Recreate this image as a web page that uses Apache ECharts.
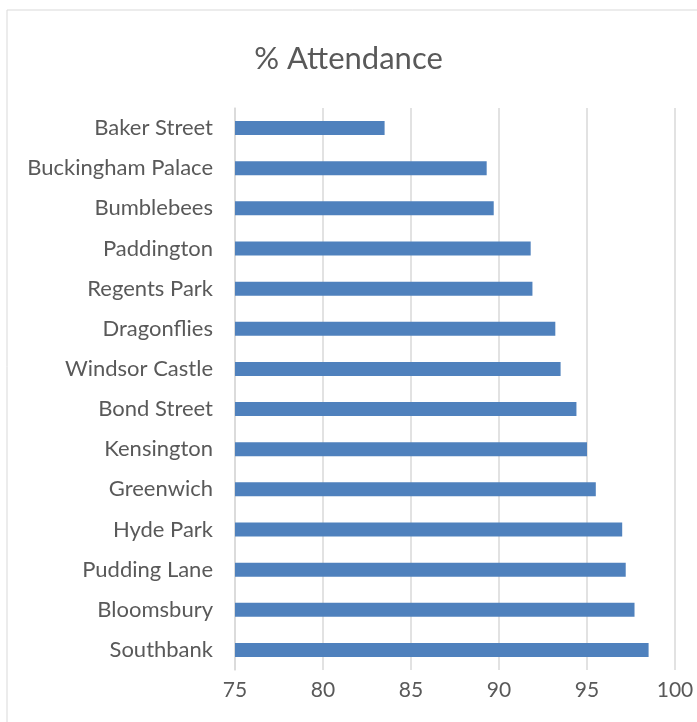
<!DOCTYPE html>
<html>
<head>
    <meta charset="utf-8">
    <title>% Attendance</title>
    <script src="https://cdn.jsdelivr.net/npm/echarts@6/dist/echarts.min.js"></script>
    <style>
        html, body { margin:0; padding:0; background:#fff; }
        #chart { width:697px; height:722px; }
    </style>
</head>
<body>
<div id="chart"></div>
<script>
// schools, top to bottom as shown
var schools = ['Baker Street', 'Buckingham Palace', 'Bumblebees', 'Paddington', 'Regents Park',
    'Dragonflies', 'Windsor Castle', 'Bond Street', 'Kensington', 'Greenwich', 'Hyde Park',
    'Pudding Lane', 'Bloomsbury', 'Southbank'];
var attendance = [83.5, 89.3, 89.7, 91.8, 91.9, 93.2, 93.5, 94.4, 95.0, 95.5, 97.0, 97.2, 97.7, 98.5];
var tickMin = 75, tickMax = 100, tickStep = 5;

var font = 'Lato, Carlito, "Open Sans", sans-serif';
var chart = echarts.init(document.getElementById('chart'));
var option = {
    backgroundColor: '#fff',
    animation: false,
    graphic: [{
        type: 'rect',
        shape: { x: 7, y: 10, width: 700, height: 720 },
        style: { fill: 'none', stroke: '#d9d9d9', lineWidth: 1 }
    }],
    title: {
        text: '% Attendance',
        left: 'center',
        top: 38,
        textStyle: { fontFamily: font, fontSize: 31, fontWeight: 'normal', color: '#595959' }
    },
    grid: { left: 235, right: 22, top: 108, bottom: 52 },
    xAxis: {
        type: 'value',
        min: tickMin,
        max: tickMax,
        interval: tickStep,
        axisLine: { show: false },
        axisTick: { show: false },
        splitLine: { lineStyle: { color: '#d9d9d9', width: 1.5 } },
        axisLabel: { fontFamily: font, fontSize: 21, color: '#595959', margin: 10 }
    },
    yAxis: {
        type: 'category',
        data: schools,
        inverse: true,
        axisLine: { show: true, lineStyle: { color: '#d9d9d9', width: 1.5 } },
        axisTick: { show: false },
        axisLabel: { fontFamily: font, fontSize: 22, color: '#595959', margin: 22 }
    },
    series: [{
        type: 'bar',
        data: attendance,
        barWidth: 14,
        itemStyle: { color: '#4f81bd' }
    }]
};
chart.setOption(option);
</script>
</body>
</html>
